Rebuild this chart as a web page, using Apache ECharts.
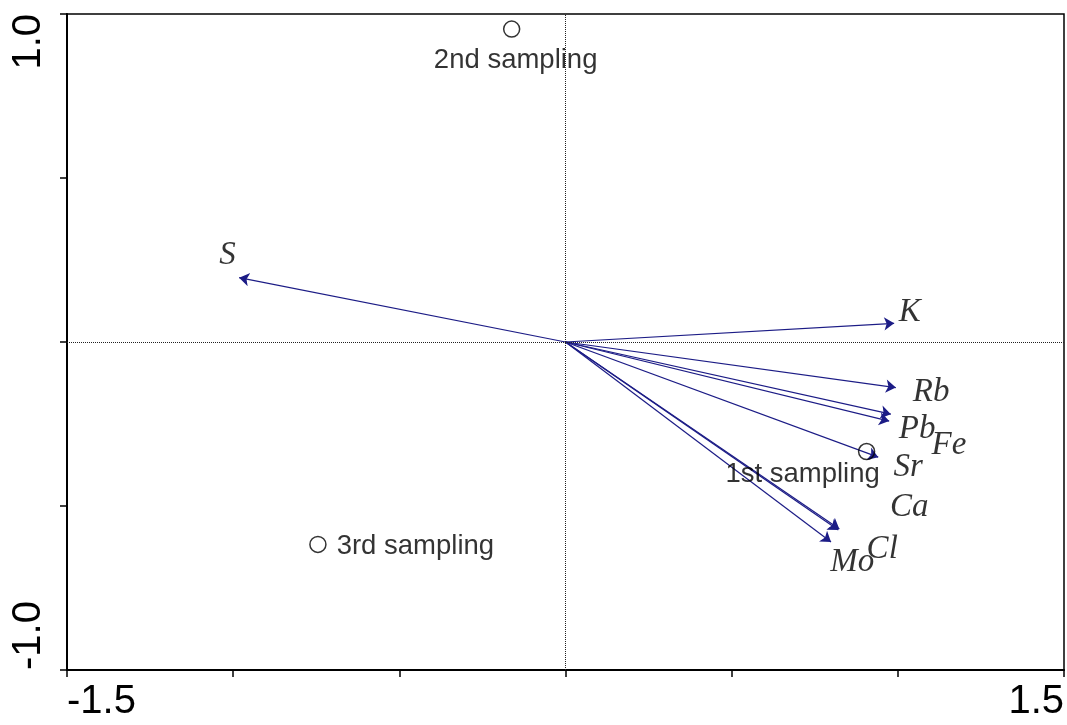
<!DOCTYPE html>
<html>
<head>
<meta charset="utf-8">
<script src="https://cdn.jsdelivr.net/npm/echarts@6/dist/echarts.min.js"></script>
<style>
  html, body { margin: 0; padding: 0; background: #fff; }
  #chart { width: 1067px; height: 725px; }
</style>
</head>
<body>
<div id="chart"></div>
<script>
// element arrows (biplot scores) and their label anchors
const elementNames = ["S", "K", "Rb", "Pb", "Fe", "Sr", "Ca", "Cl", "Mo"];
const arrowX = [-0.982, 0.989, 0.994, 0.979, 0.974, 0.941, 0.824, 0.821, 0.799];
const arrowY = [0.196, 0.057, -0.139, -0.220, -0.241, -0.351, -0.570, -0.573, -0.610];
const labelX = [-1.017, 1.036, 1.100, 1.058, 1.154, 1.031, 1.034, 0.953, 0.863];
const labelY = [0.265, 0.091, -0.152, -0.265, -0.316, -0.383, -0.505, -0.631, -0.673];

// sampling points
const sampleNames = ["1st sampling", "2nd sampling", "3rd sampling"];
const sampleX = [0.906, -0.162, -0.745];
const sampleY = [-0.334, 0.954, -0.617];

// axis ranges / tick labels
const xMin = -1.5, xMax = 1.5, xStep = 0.5;
const yMin = -1.0, yMax = 1.0, yStep = 0.5;
const xTickLabels = { "-1.5": "-1.5", "1.5": "1.5" };
const yTickLabels = { "-1": "-1.0", "1": "1.0" };

const chart = echarts.init(document.getElementById("chart"));

const sampleLabelStyle = [
  { position: "inside", offset: [-64, 23] },
  { position: "inside", offset: [4, 31] },
  { position: "right", distance: 10, offset: [0, 2] },
];

chart.setOption({
  animation: false,
  backgroundColor: "#fff",
  grid: {
    left: 67, right: 2, top: 14, bottom: 55,
    show: true, borderColor: "#000", borderWidth: 1.5,
  },
  xAxis: {
    type: "value",
    min: xMin, max: xMax, interval: xStep,
    axisLine: { show: true, onZero: false, lineStyle: { color: "#000", width: 2 } },
    axisTick: { show: true, inside: false, length: 7, lineStyle: { color: "#000", width: 1.5 } },
    splitLine: { show: false },
    axisLabel: {
      margin: 12,
      fontFamily: "Liberation Sans",
      fontSize: 40,
      color: "#000",
      alignMinLabel: "left",
      alignMaxLabel: "right",
      formatter: (v) => xTickLabels[String(v)] || "",
    },
  },
  yAxis: {
    type: "value",
    min: yMin, max: yMax, interval: yStep,
    axisLine: { show: true, onZero: false, lineStyle: { color: "#000", width: 2 } },
    axisTick: { show: true, inside: false, length: 7, lineStyle: { color: "#000", width: 1.5 } },
    splitLine: { show: false },
    axisLabel: {
      rotate: 90,
      margin: 18,
      fontFamily: "Liberation Sans",
      fontSize: 40,
      color: "#000",
      alignMinLabel: "left",
      alignMaxLabel: "right",
      formatter: (v) => yTickLabels[String(v)] || "",
    },
  },
  series: [
    {
      // zero reference lines
      type: "scatter",
      data: [],
      silent: true,
      markLine: {
        silent: true,
        symbol: "none",
        label: { show: false },
        lineStyle: { color: "#222", type: "dotted", width: 1 },
        data: [{ xAxis: 0 }, { yAxis: 0 }],
      },
    },
    {
      name: "arrows",
      type: "lines",
      coordinateSystem: "cartesian2d",
      silent: true,
      symbol: ["none", "arrow"],
      symbolSize: 10,
      lineStyle: { color: "#1c1c86", width: 1.2, opacity: 1 },
      data: elementNames.map((n, i) => ({ name: n, coords: [[0, 0], [arrowX[i], arrowY[i]]] })),
    },
    {
      name: "elements",
      type: "scatter",
      symbolSize: 0,
      silent: true,
      label: {
        show: true,
        position: "inside",
        formatter: "{b}",
        fontFamily: "Liberation Serif",
        fontStyle: "italic",
        fontSize: 33,
        color: "#000",
        textBorderWidth: 0,
      },
      data: elementNames.map((n, i) => ({ name: n, value: [labelX[i], labelY[i]] })),
    },
    {
      name: "samples",
      type: "scatter",
      symbol: "circle",
      symbolSize: 16,
      silent: true,
      itemStyle: { color: "rgba(0,0,0,0)", borderColor: "#000", borderWidth: 1.5 },
      label: {
        show: true,
        formatter: "{b}",
        fontFamily: "Liberation Sans",
        fontSize: 27.5,
        color: "#000",
        textBorderWidth: 0,
      },
      data: sampleNames.map((n, i) => ({
        name: n,
        value: [sampleX[i], sampleY[i]],
        label: sampleLabelStyle[i],
      })),
    },
  ],
});
</script>
</body>
</html>
